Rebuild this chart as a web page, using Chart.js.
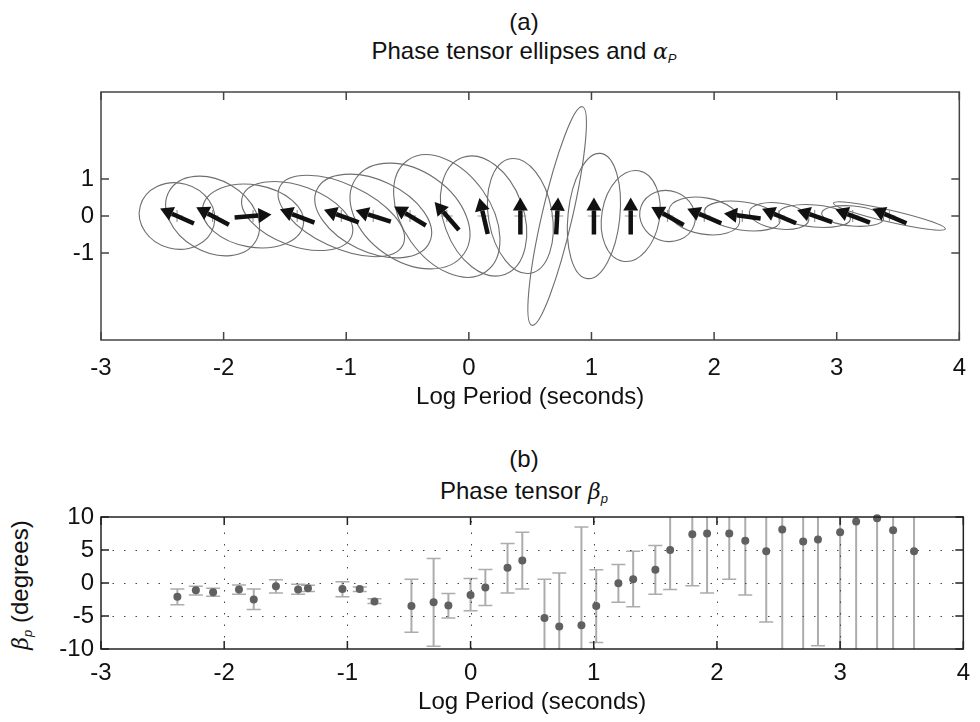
<!DOCTYPE html>
<html>
<head>
<meta charset="utf-8">
<script src="https://cdn.jsdelivr.net/npm/chart.js@4.4.1/dist/chart.umd.min.js"></script>
<style>
  html, body { margin: 0; padding: 0; background: #fff; }
  #page { position: relative; width: 980px; height: 722px; overflow: hidden;
          font-family: "Liberation Sans", Arial, sans-serif; color: #111; }
  .ttl { position: absolute; transform: translateX(-50%); white-space: nowrap;
         font-size: 24px; line-height: 28px; }
  .ttl i { font-family: "DejaVu Serif", serif; font-size: 22px; }
  .ttl sub { font-size: 13px; vertical-align: -4px; font-style: italic; }
  .wrap { position: absolute; left: 0; width: 980px; }
  #ylab { position: absolute; left: 24px; top: 585px; white-space: nowrap;
          transform: translate(-50%, -50%) rotate(-90deg); font-size: 24px; line-height: 28px; }
  #ylab i { font-family: "DejaVu Serif", serif; font-size: 22px; }
  #ylab sub { font-size: 13px; vertical-align: -4px; font-style: italic; }
</style>
</head>
<body>
<div id="page">
  <div class="ttl" style="left:524px;top:8px">(a)</div>
  <div class="ttl" style="left:524px;top:37px">Phase tensor ellipses and <i>α</i><sub>P</sub></div>
  <div class="wrap" style="top:0;height:412px"><canvas id="chartA" width="980" height="412"></canvas></div>

  <div class="ttl" style="left:524px;top:445px">(b)</div>
  <div class="ttl" style="left:524px;top:477px">Phase tensor <i>β</i><sub>p</sub></div>
  <div id="ylab"><i>β</i><sub>p</sub> (degrees)</div>
  <div class="wrap" style="top:440px;height:282px"><canvas id="chartB" width="980" height="282"></canvas></div>
</div>
<script>
// log10 period of every estimate (panel b)
var periods = [-2.38, -2.23, -2.09, -1.88, -1.76, -1.58, -1.40, -1.32, -1.04, -0.90,
  -0.78, -0.48, -0.30, -0.18, 0.00, 0.12, 0.30, 0.42, 0.60, 0.72,
  0.90, 1.02, 1.20, 1.32, 1.50, 1.62, 1.80, 1.92, 2.10, 2.23,
  2.40, 2.53, 2.70, 2.82, 3.00, 3.13, 3.30, 3.43, 3.60];
var betaValues = [-2.1, -1.1, -1.4, -1.0, -2.5, -0.5, -1.0, -0.8, -0.9, -0.9,
  -2.8, -3.5, -2.9, -3.4, -1.8, -0.7, 2.3, 3.4, -5.3, -6.6,
  -6.4, -3.5, -0.05, 0.55, 2.0, 5.0, 7.4, 7.5, 7.5, 6.4,
  4.8, 8.1, 6.3, 6.6, 7.7, 9.3, 9.8, 8.0, 4.8];
var betaLow = [-3.3, -1.8, -2.0, -1.7, -4.0, -1.5, -1.7, -1.3, -2.1, -1.3,
  -3.1, -7.45, -9.6, -5.3, -4.2, -3.4, -1.5, -0.9, -11.5, -14.8,
  -21.5, -9.0, -2.9, -3.6, -1.7, -1.0, -0.4, -1.5, 0.55, -1.8,
  -5.9, -12, -12, -9.5, -12, -12, -12, -12, -12];
var betaHigh = [-0.9, -0.5, -0.8, -0.3, -0.9, 0.5, -0.2, -0.35, 0.2, -0.6,
  -2.4, 0.55, 3.7, -1.6, 0.7, 2.05, 6.0, 7.7, 0.55, 1.5,
  8.5, 2.0, 2.8, 4.8, 5.7, 11.0, 15.2, 16.4, 14.4, 14.6,
  15.5, 28, 25, 22.7, 28, 30, 31, 28, 22];

// panel a: ellipses (semi axes in y-axis units, tilt in degrees) and alpha arrows
var ellipsePeriods = [-2.38, -2.09, -1.76, -1.40, -1.04, -0.78, -0.48, -0.18, 0.12, 0.42,
  0.72, 1.02, 1.32, 1.62, 1.92, 2.23, 2.53, 2.82, 3.13, 3.43];
var ellipseMajor = [1.03, 1.35, 1.38, 1.57, 1.84, 1.68, 1.78, 1.84, 1.68, 1.57,
  3.03, 1.70, 1.24, 0.76, 0.97, 1.03, 0.81, 0.97, 0.84, 1.55];
var ellipseMinor = [0.89, 0.97, 0.84, 0.81, 0.86, 0.97, 1.22, 1.19, 1.08, 0.86,
  0.41, 0.70, 0.78, 0.68, 0.49, 0.38, 0.35, 0.30, 0.27, 0.16];
var ellipseTilt = [-15, -30, -10, -20, -25, -25, -35, -55, -70, -80,
  77, 84, 80, -20, -10, -8, -8, -5, -5, -13];
var alphaDir = [156, 152, 5, 159, 160, 162, 149, 131, 103, 90,
  87, 90, 90, 151, 157, 172, 157, 161, 159, 157];

var xTicks = [-3, -2, -1, 0, 1, 2, 3, 4];
var yTicksA = [-1, 0, 1];
var yTicksB = [-10, -5, 0, 5, 10];

var FONT = '"Liberation Sans", Arial, sans-serif';

function fixTicks(list) {
  return function (scale) {
    scale.ticks = list.map(function (v) { return { value: v }; });
  };
}

// box, inward tick marks and optional dotted grid
function boxPlugin(yList, dotted, frameColor) {
  return {
    id: 'box',
    beforeDatasetsDraw: function (chart) {
      if (!dotted) return;
      var a = chart.chartArea, ctx = chart.ctx;
      var xs = chart.scales.x, ys = chart.scales.y;
      ctx.save();
      ctx.strokeStyle = '#444';
      ctx.lineWidth = 1;
      ctx.setLineDash([1.5, 10]);
      xTicks.forEach(function (v) {
        if (v <= xs.min || v >= xs.max) return;
        var px = Math.round(xs.getPixelForValue(v)) + 0.5;
        ctx.beginPath(); ctx.moveTo(px, a.bottom); ctx.lineTo(px, a.top); ctx.stroke();
      });
      yList.forEach(function (v) {
        if (v <= ys.min || v >= ys.max) return;
        var py = Math.round(ys.getPixelForValue(v)) + 0.5;
        ctx.beginPath(); ctx.moveTo(a.left, py); ctx.lineTo(a.right, py); ctx.stroke();
      });
      ctx.restore();
    },
    afterDraw: function (chart) {
      var a = chart.chartArea, ctx = chart.ctx;
      var xs = chart.scales.x, ys = chart.scales.y;
      var tl = 8;
      ctx.save();
      ctx.strokeStyle = frameColor;
      ctx.lineWidth = 1.5;
      ctx.beginPath();
      xTicks.forEach(function (v) {
        var px = xs.getPixelForValue(v);
        ctx.moveTo(px, a.bottom); ctx.lineTo(px, a.bottom - tl);
        ctx.moveTo(px, a.top); ctx.lineTo(px, a.top + tl);
      });
      yList.forEach(function (v) {
        var py = ys.getPixelForValue(v);
        ctx.moveTo(a.left, py); ctx.lineTo(a.left + tl, py);
        ctx.moveTo(a.right, py); ctx.lineTo(a.right - tl, py);
      });
      ctx.stroke();
      ctx.strokeRect(a.left, a.top, a.right - a.left, a.bottom - a.top);
      ctx.restore();
    }
  };
}

var ellipsePlugin = {
  id: 'ellipses',
  beforeDatasetsDraw: function (chart) {
    var ctx = chart.ctx, xs = chart.scales.x, ys = chart.scales.y;
    var ppu = Math.abs(ys.getPixelForValue(1) - ys.getPixelForValue(0));
    ctx.save();
    ctx.strokeStyle = '#6e6e6e';
    ctx.lineWidth = 1.1;
    ellipsePeriods.forEach(function (p, i) {
      var cx = xs.getPixelForValue(p), cy = ys.getPixelForValue(0);
      ctx.beginPath();
      ctx.ellipse(cx, cy, ellipseMajor[i] * ppu, ellipseMinor[i] * ppu,
        -ellipseTilt[i] * Math.PI / 180, 0, Math.PI * 2);
      ctx.stroke();
    });
    ctx.restore();
  },
  afterDatasetsDraw: function (chart) {
    var ctx = chart.ctx, xs = chart.scales.x, ys = chart.scales.y;
    var ppu = Math.abs(ys.getPixelForValue(1) - ys.getPixelForValue(0));
    var len = 1.0 * ppu, headL = 13, headW = 7.5;
    ctx.save();
    ctx.fillStyle = '#111';
    ctx.strokeStyle = '#111';
    ctx.lineWidth = 4.5;
    ellipsePeriods.forEach(function (p, i) {
      var cx = xs.getPixelForValue(p), cy = ys.getPixelForValue(0);
      var t = alphaDir[i] * Math.PI / 180;
      var dx = Math.cos(t), dy = -Math.sin(t);
      var tx = cx - dx * len / 2, ty = cy - dy * len / 2;
      var hx = cx + dx * len / 2, hy = cy + dy * len / 2;
      var bx = hx - dx * headL, by = hy - dy * headL;
      ctx.beginPath(); ctx.moveTo(tx, ty); ctx.lineTo(bx, by); ctx.stroke();
      ctx.beginPath();
      ctx.moveTo(hx, hy);
      ctx.lineTo(bx - dy * headW, by + dx * headW);
      ctx.lineTo(bx + dy * headW, by - dx * headW);
      ctx.closePath();
      ctx.fill();
    });
    ctx.restore();
  }
};

var errorBarPlugin = {
  id: 'errbars',
  beforeDatasetsDraw: function (chart) {
    var a = chart.chartArea, ctx = chart.ctx, xs = chart.scales.x, ys = chart.scales.y;
    ctx.save();
    ctx.beginPath();
    ctx.rect(a.left, a.top, a.right - a.left, a.bottom - a.top);
    ctx.clip();
    ctx.strokeStyle = '#acacac';
    periods.forEach(function (p, i) {
      var px = xs.getPixelForValue(p);
      var lo = ys.getPixelForValue(betaLow[i]), hi = ys.getPixelForValue(betaHigh[i]);
      ctx.lineWidth = 2;
      ctx.beginPath(); ctx.moveTo(px, lo); ctx.lineTo(px, hi); ctx.stroke();
      ctx.lineWidth = 1.5;
      ctx.beginPath();
      ctx.moveTo(px - 7, lo); ctx.lineTo(px + 7, lo);
      ctx.moveTo(px - 7, hi); ctx.lineTo(px + 7, hi);
      ctx.stroke();
    });
    ctx.restore();
  }
};

function xScale(pad, titlePadBottom, height) {
  return {
    type: 'linear', min: -3, max: 4,
    afterBuildTicks: fixTicks(xTicks),
    afterFit: function (s) { s.height = height; },
    grid: { display: false, drawTicks: false },
    border: { display: false },
    ticks: { color: '#111', padding: pad, font: { family: FONT, size: 24 },
      maxRotation: 0, autoSkip: false },
    title: { display: true, text: 'Log Period (seconds)', color: '#111',
      font: { family: FONT, size: 24 }, padding: { top: 0, bottom: titlePadBottom } }
  };
}

function yScale(min, max, list) {
  return {
    type: 'linear', min: min, max: max,
    afterBuildTicks: fixTicks(list),
    afterFit: function (s) { s.width = 101; },
    grid: { display: false, drawTicks: false },
    border: { display: false },
    ticks: { color: '#111', padding: 7, font: { family: FONT, size: 24 } }
  };
}

new Chart(document.getElementById('chartA').getContext('2d'), {
  type: 'scatter',
  data: {
    datasets: [{
      data: ellipsePeriods.map(function (p) { return { x: p, y: 0 }; }),
      pointStyle: 'cross', pointRadius: 6, borderColor: '#9a9a9a', borderWidth: 1.2,
      backgroundColor: '#9a9a9a'
    }]
  },
  options: {
    responsive: false, animation: false, events: [],
    layout: { padding: { top: 92, right: 8, left: 0, bottom: 0 } },
    plugins: { legend: { display: false }, tooltip: { enabled: false }, title: { display: false } },
    scales: { x: xScale(14, 0, 72), y: yScale(-3.35, 3.35, yTicksA) }
  },
  plugins: [ellipsePlugin, boxPlugin(yTicksA, false, '#444')]
});

new Chart(document.getElementById('chartB').getContext('2d'), {
  type: 'scatter',
  data: {
    datasets: [{
      data: periods.map(function (p, i) { return { x: p, y: betaValues[i] }; }),
      pointRadius: 4, pointBackgroundColor: '#606060', pointBorderColor: '#606060',
      pointBorderWidth: 0, clip: false
    }]
  },
  options: {
    responsive: false, animation: false, events: [],
    layout: { padding: { top: 77, right: 8, left: 0, bottom: 0 } },
    plugins: { legend: { display: false }, tooltip: { enabled: false }, title: { display: false } },
    scales: { x: xScale(10, 5, 73), y: yScale(-10, 10, yTicksB) }
  },
  plugins: [errorBarPlugin, boxPlugin(yTicksB, true, '#222')]
});
</script>
</body>
</html>
